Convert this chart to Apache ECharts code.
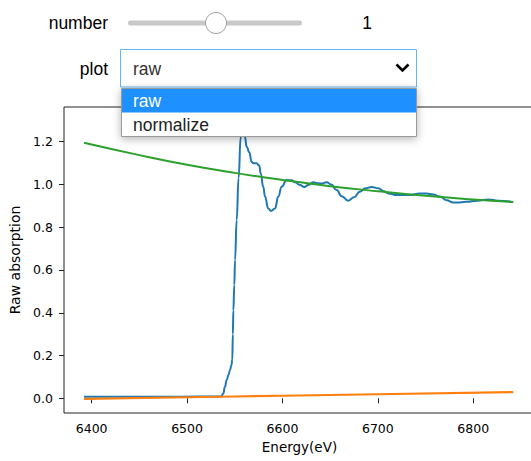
<!DOCTYPE html>
<html>
<head>
<meta charset="utf-8">
<script src="https://cdn.jsdelivr.net/npm/echarts@6/dist/echarts.min.js"></script>
<style>
html,body{margin:0;padding:0;background:#fff;}
#chart{width:531px;height:461px;}
</style>
</head>
<body>
<div id="chart"></div>
<script>
// ---- data ----
const rawEnergy = [6392, 6420, 6450, 6480, 6510, 6525, 6532, 6536, 6538, 6539.7, 6541.5, 6543.5, 6545, 6546.5, 6547.4, 6548, 6548.5, 6549.5, 6550.3, 6552, 6554, 6556.2, 6558.5, 6560.7, 6562.5, 6565.2, 6567.7, 6569.4, 6572.9, 6575.7, 6577.1, 6579.9, 6581.7, 6585.1, 6588, 6592.2, 6595.6, 6599.2, 6604.4, 6609.6, 6613.1, 6618.3, 6622.9, 6627, 6632.3, 6637.5, 6641, 6646.3, 6651, 6656.8, 6662, 6669, 6675, 6681.2, 6687, 6693.5, 6700.4, 6706, 6711, 6720, 6733.6, 6744, 6751, 6758, 6765, 6772, 6779, 6786, 6793, 6804, 6816, 6826, 6840];
const rawAbsorption = [0.007, 0.007, 0.007, 0.007, 0.008, 0.008, 0.008, 0.009, 0.023, 0.054, 0.086, 0.11, 0.132, 0.155, 0.18, 0.30, 0.41, 0.53, 0.647, 0.834, 1.03, 1.22, 1.30, 1.22, 1.176, 1.15, 1.106, 1.099, 1.099, 1.088, 1.052, 0.989, 0.943, 0.888, 0.876, 0.888, 0.943, 0.989, 1.021, 1.019, 1.010, 0.997, 0.988, 0.997, 1.010, 1.005, 1.004, 1.010, 1.000, 0.974, 0.945, 0.924, 0.940, 0.966, 0.982, 0.988, 0.982, 0.968, 0.958, 0.950, 0.950, 0.958, 0.958, 0.953, 0.943, 0.926, 0.916, 0.916, 0.919, 0.924, 0.930, 0.924, 0.919];
const preEnergy = [6392, 6500, 6600, 6700, 6842];
const preEdge = [-0.003, 0.005, 0.012, 0.019, 0.029];
const postEnergy = [6392, 6450, 6500, 6550, 6600, 6650, 6700, 6750, 6800, 6842];
const postEdge = [1.195, 1.137, 1.092, 1.054, 1.021, 0.992, 0.968, 0.947, 0.930, 0.918];
const xTicks = [6400, 6500, 6600, 6700, 6800];
const yTicks = [0, 0.2, 0.4, 0.6, 0.8, 1.0, 1.2];
const sliderLabel = 'number';
const sliderValue = '1';
const dropdownLabel = 'plot';
const dropdownOptions = ['raw', 'normalize'];
const selectedOption = 'raw';

function pairs(xs, ys) { return xs.map((x, i) => [x, ys[i]]); }

const chart = echarts.init(document.getElementById('chart'), null, {renderer: 'svg'});
const tickFont = {fontFamily: 'DejaVu Sans', fontSize: 12.5, color: '#000'};
const widgetFont = 'Liberation Sans';

chart.setOption({
  animation: false,
  backgroundColor: '#fff',
  grid: {
    left: 64, top: 107, width: 471, height: 306,
    show: true, borderColor: '#222', borderWidth: 1,
    outerBoundsMode: 'none'
  },
  xAxis: {
    type: 'value', min: 6371, max: 6864.7,
    name: 'Energy(eV)', nameLocation: 'middle', nameGap: 27,
    nameTextStyle: {fontFamily: 'DejaVu Sans', fontSize: 13.5, color: '#000'},
    axisLine: {show: false},
    axisTick: {show: true, inside: false, length: 5, customValues: xTicks, lineStyle: {color: '#222', width: 1}},
    axisLabel: Object.assign({margin: 9, customValues: xTicks, formatter: v => String(v)}, tickFont),
    splitLine: {show: false}
  },
  yAxis: {
    type: 'value', min: -0.0687, max: 1.362,
    name: 'Raw absorption', nameLocation: 'middle', nameGap: 39, nameRotate: 90,
    nameTextStyle: {fontFamily: 'DejaVu Sans', fontSize: 14, color: '#000'},
    axisLine: {show: false},
    axisTick: {show: true, inside: false, length: 5, customValues: yTicks, lineStyle: {color: '#222', width: 1}},
    axisLabel: Object.assign({margin: 11, customValues: yTicks, formatter: v => v.toFixed(1)}, tickFont),
    splitLine: {show: false}
  },
  series: [
    {type: 'line', data: pairs(rawEnergy, rawAbsorption), showSymbol: false, smooth: 0.5, smoothMonotone: 'x',
     lineStyle: {color: '#1f77b4', width: 2}, itemStyle: {color: '#1f77b4'}, z: 2},
    {type: 'line', data: pairs(preEnergy, preEdge), showSymbol: false, smooth: true,
     lineStyle: {color: '#ff7f0e', width: 2.2}, itemStyle: {color: '#ff7f0e'}, z: 3},
    {type: 'line', data: pairs(postEnergy, postEdge), showSymbol: false, smooth: true,
     lineStyle: {color: '#2ca02c', width: 2}, itemStyle: {color: '#2ca02c'}, z: 4}
  ],
  graphic: [
    {type: 'text', z: 100, x: 108, y: 23, style: {text: sliderLabel, fontFamily: widgetFont, fontSize: 17.5, fill: '#000', align: 'right', verticalAlign: 'middle'}},
    {type: 'rect', z: 100, shape: {x: 128, y: 20.5, width: 174, height: 5, r: 2.5}, style: {fill: '#c8c8c8'}},
    {type: 'circle', z: 101, shape: {cx: 216, cy: 23, r: 10.5}, style: {fill: '#fff', stroke: '#9e9e9e', lineWidth: 1}},
    {type: 'text', z: 100, x: 367, y: 23, style: {text: sliderValue, fontFamily: widgetFont, fontSize: 17.5, fill: '#000', align: 'center', verticalAlign: 'middle'}},
    {type: 'text', z: 100, x: 108, y: 69, style: {text: dropdownLabel, fontFamily: widgetFont, fontSize: 17.5, fill: '#000', align: 'right', verticalAlign: 'middle'}},
    {type: 'rect', z: 100, shape: {x: 120.5, y: 49.5, width: 296, height: 37.5}, style: {fill: '#fff', stroke: '#64b5f6', lineWidth: 1}},
    {type: 'text', z: 101, x: 133, y: 69, style: {text: selectedOption, fontFamily: widgetFont, fontSize: 17.5, fill: '#333', align: 'left', verticalAlign: 'middle'}},
    {type: 'polyline', z: 101, shape: {points: [[396.5, 64.5], [402.5, 70.5], [408.5, 64.5]]}, style: {stroke: '#000', lineWidth: 2.6, fill: null}},
    {type: 'rect', z: 110, shape: {x: 121.5, y: 88.5, width: 295, height: 48}, style: {fill: '#fff', stroke: '#9a9a9a', lineWidth: 1, shadowBlur: 8, shadowColor: 'rgba(0,0,0,0.3)', shadowOffsetY: 2}},
    {type: 'rect', z: 111, shape: {x: 122, y: 89, width: 294, height: 23.5}, style: {fill: '#1e90ff'}},
    {type: 'text', z: 112, x: 133, y: 100.5, style: {text: dropdownOptions[0], fontFamily: widgetFont, fontSize: 17.5, fill: '#fff', align: 'left', verticalAlign: 'middle'}},
    {type: 'text', z: 112, x: 133, y: 124.5, style: {text: dropdownOptions[1], fontFamily: widgetFont, fontSize: 17.5, fill: '#222', align: 'left', verticalAlign: 'middle'}}
  ]
});
</script>
</body>
</html>
